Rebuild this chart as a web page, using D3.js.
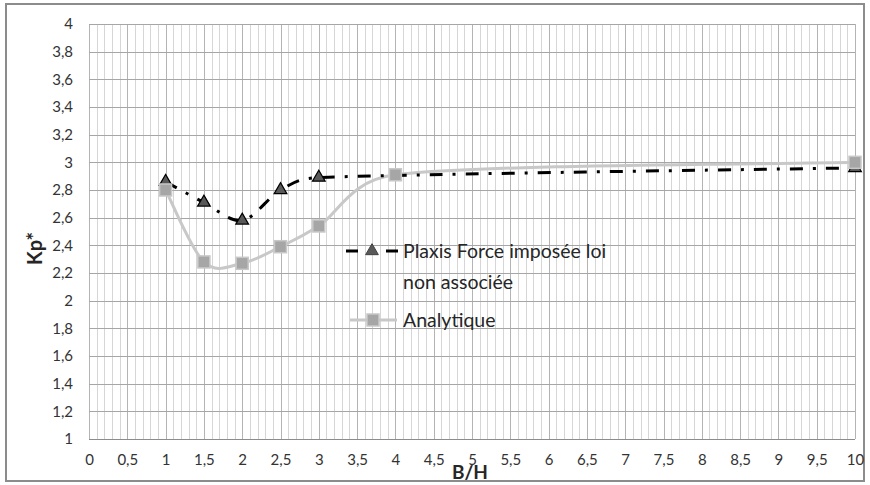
<!DOCTYPE html>
<html>
<head>
<meta charset="utf-8">
<script src="https://cdn.jsdelivr.net/npm/d3@7"></script>
<style>
  body { margin: 0; background: #fff; }
  text { font-family: Lato, "Open Sans", sans-serif; }
</style>
</head>
<body>
<svg width="870" height="485"></svg>
<script>
(function (d3) {
  'use strict';

  // Data
  const plaxisX = [1, 1.5, 2, 2.5, 3, 10];
  const plaxisY = [2.86, 2.71, 2.58, 2.80, 2.89, 2.96];
  const analyticX = [1, 1.5, 2, 2.5, 3, 4, 10];
  const analyticY = [2.80, 2.28, 2.27, 2.39, 2.54, 2.91, 3.0];
  const xTicks = d3.range(0, 10.01, 0.5);
  const yTicks = d3.range(1, 4.01, 0.2);
  const legendLabels = ['Plaxis Force imposée loi', 'non associée', 'Analytique'];

  const svg = d3.select('svg');
  const width = +svg.attr('width');
  const height = +svg.attr('height');

  const margin = { left: 89, right: 15, top: 24, bottom: 46 };

  const x = d3.scaleLinear().domain([0, 10]).range([margin.left, width - margin.right]);
  const y = d3.scaleLinear().domain([1, 4]).range([height - margin.bottom, margin.top]);

  const fmt = d => d3.format('.1~f')(d).replace('.', ',');

  // outer frame
  svg.append('rect')
    .attr('x', 6).attr('y', 4)
    .attr('width', width - 12).attr('height', height - 8)
    .attr('fill', 'none')
    .attr('stroke', '#8c8c8c')
    .attr('stroke-width', 2);

  const grid = svg.append('g');

  // vertical grid lines every 0.1
  grid.selectAll('.vminor')
    .data(d3.range(0, 101).map(i => i / 10))
    .enter().append('line')
    .attr('x1', d => Math.round(x(d)) + 0.5)
    .attr('x2', d => Math.round(x(d)) + 0.5)
    .attr('y1', y(4)).attr('y2', y(1))
    .attr('stroke', (d, i) => i % 5 === 0 ? '#b4b4b4' : '#d6d6d6')
    .attr('stroke-width', 1);

  // horizontal grid lines
  grid.selectAll('.hmajor')
    .data(yTicks)
    .enter().append('line')
    .attr('x1', x(0)).attr('x2', x(10))
    .attr('y1', d => Math.round(y(d)) + 0.5)
    .attr('y2', d => Math.round(y(d)) + 0.5)
    .attr('stroke', d => Math.abs(d - 1) < 1e-6 ? '#8c8c8c' : '#a6a6a6')
    .attr('stroke-width', 1);

  // axes labels
  const xAxis = d3.axisBottom(x).tickValues(xTicks).tickFormat(fmt).tickSize(0).tickPadding(15);
  const xG = svg.append('g').attr('transform', `translate(0,${y(1)})`).call(xAxis);
  xG.select('.domain').remove();
  xG.selectAll('text').attr('font-size', 15).attr('fill', '#333')
    .style('font-family', 'Lato, "Open Sans", sans-serif');

  const yAxis = d3.axisLeft(y).tickValues(yTicks).tickFormat(fmt).tickSize(0).tickPadding(16);
  const yG = svg.append('g').attr('transform', `translate(${x(0)},0)`).call(yAxis);
  yG.select('.domain').remove();
  yG.selectAll('text').attr('font-size', 15).attr('fill', '#333')
    .style('font-family', 'Lato, "Open Sans", sans-serif');

  // axis titles
  svg.append('text')
    .attr('x', 470).attr('y', 479)
    .attr('text-anchor', 'middle')
    .attr('font-size', 19).attr('font-weight', 'bold')
    .attr('fill', '#262626')
    .text('B/H');

  svg.append('text')
    .attr('transform', `translate(42,${(y(1) + y(4)) / 2 + 17}) rotate(-90)`)
    .attr('text-anchor', 'middle')
    .attr('font-size', 20).attr('font-weight', 'bold')
    .attr('fill', '#262626')
    .text('Kp*');

  // Excel-style smoothing: bezier with 1/6 tangents, capped on short segments
  const smoothPath = (data) => {
    const pts = data.map(d => [x(d[0]), y(d[1])]);
    const dist = (a, b) => Math.hypot(b[0] - a[0], b[1] - a[1]);
    const p = d3.path();
    p.moveTo(pts[0][0], pts[0][1]);
    for (let i = 0; i < pts.length - 1; i++) {
      const p0 = pts[i - 1] || pts[i];
      const p1 = pts[i];
      const p2 = pts[i + 1];
      const p3 = pts[i + 2] || pts[i + 1];
      const d12 = dist(p1, p2);
      const d02 = dist(p0, p2);
      const d13 = dist(p1, p3);
      const f1 = d02 > 0 ? Math.min(1 / 6, 0.5 * d12 / d02) : 0;
      const f2 = d13 > 0 ? Math.min(1 / 6, 0.5 * d12 / d13) : 0;
      p.bezierCurveTo(
        p1[0] + (p2[0] - p0[0]) * f1, p1[1] + (p2[1] - p0[1]) * f1,
        p2[0] - (p3[0] - p1[0]) * f2, p2[1] - (p3[1] - p1[1]) * f2,
        p2[0], p2[1]);
    }
    return p.toString();
  };

  const plaxis = plaxisX.map((v, i) => [v, plaxisY[i]]);
  const analytic = analyticX.map((v, i) => [v, analyticY[i]]);

  const triangle = d3.symbol().type(d3.symbolTriangle).size(70);
  const dashPattern = '13,10,3,10';

  // Analytique series
  svg.append('path')
    .attr('d', smoothPath(analytic))
    .attr('fill', 'none')
    .attr('stroke', '#c8c8c8')
    .attr('stroke-width', 3);

  // Plaxis series
  svg.append('path')
    .attr('d', smoothPath(plaxis))
    .attr('fill', 'none')
    .attr('stroke', '#000')
    .attr('stroke-width', 3)
    .attr('stroke-dasharray', dashPattern);

  svg.append('g').selectAll('path')
    .data(plaxis)
    .enter().append('path')
    .attr('d', triangle)
    .attr('transform', d => `translate(${x(d[0])},${y(d[1])})`)
    .attr('fill', '#595959')
    .attr('stroke', '#000')
    .attr('stroke-width', 1.2);

  svg.append('g').selectAll('rect')
    .data(analytic)
    .enter().append('rect')
    .attr('x', d => x(d[0]) - 6)
    .attr('y', d => y(d[1]) - 6)
    .attr('width', 12).attr('height', 12)
    .attr('fill', '#a6a6a6')
    .attr('stroke', '#c8c8c8')
    .attr('stroke-width', 1.5);

  // legend
  const legendG = svg.append('g');

  legendG.append('line')
    .attr('x1', 346).attr('x2', 358)
    .attr('y1', 251).attr('y2', 251)
    .attr('stroke', '#000').attr('stroke-width', 3);
  legendG.append('line')
    .attr('x1', 386).attr('x2', 398)
    .attr('y1', 251).attr('y2', 251)
    .attr('stroke', '#000').attr('stroke-width', 3);
  legendG.append('path')
    .attr('d', triangle)
    .attr('transform', 'translate(372,251)')
    .attr('fill', '#595959')
    .attr('stroke', '#404040')
    .attr('stroke-width', 1);

  legendG.append('line')
    .attr('x1', 350).attr('x2', 397)
    .attr('y1', 320).attr('y2', 320)
    .attr('stroke', '#c8c8c8').attr('stroke-width', 3);
  legendG.append('rect')
    .attr('x', 367).attr('y', 314)
    .attr('width', 12).attr('height', 12)
    .attr('fill', '#a6a6a6')
    .attr('stroke', '#c8c8c8')
    .attr('stroke-width', 1.5);

  legendG.selectAll('.lab')
    .data(legendLabels)
    .enter().append('text')
    .attr('x', 403)
    .attr('y', (d, i) => [258, 289, 327][i])
    .attr('font-size', 19.5)
    .attr('fill', '#262626')
    .text(d => d);

}(d3));
</script>
</body>
</html>
